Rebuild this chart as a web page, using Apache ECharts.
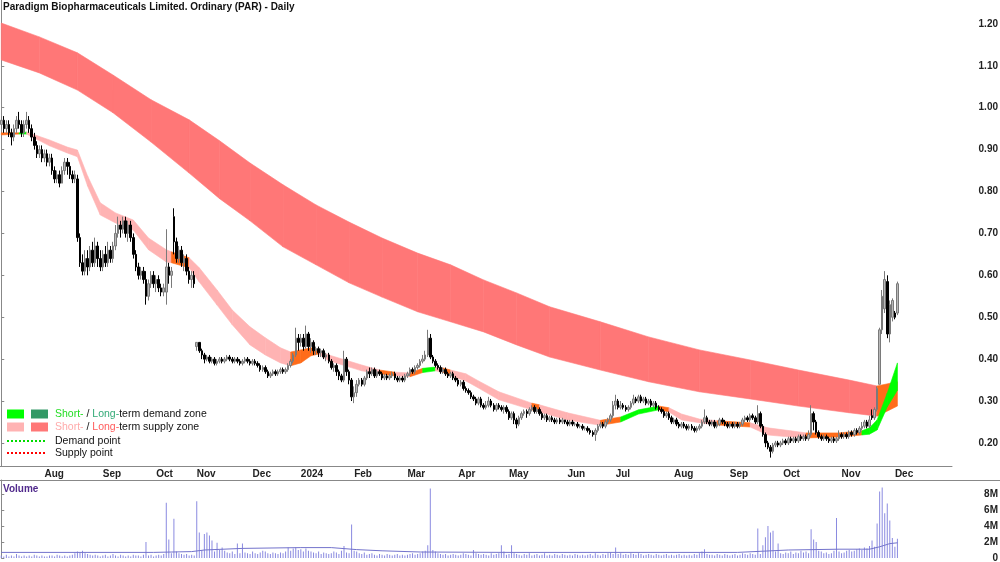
<!DOCTYPE html>
<html>
<head>
<meta charset="utf-8">
<script src="https://cdn.jsdelivr.net/npm/echarts@6/dist/echarts.min.js"></script>
<style>
  html, body { margin: 0; padding: 0; background: #fff; }
  #chart { width: 1000px; height: 562px; }
</style>
</head>
<body>
<div id="chart"></div>
<script>
const title = 'Paradigm Biopharmaceuticals Limited. Ordinary (PAR) - Daily'

// trading days on the axis (data + empty space on the right)
const dayCount = 375
const monthNames = ['Aug', 'Sep', 'Oct', 'Nov', 'Dec', '2024', 'Feb', 'Mar', 'Apr', 'May', 'Jun', 'Jul', 'Aug', 'Sep', 'Oct', 'Nov', 'Dec']
const monthStarts = [17, 40, 61, 77, 99, 118, 139, 160, 180, 200, 223, 242, 265, 287, 308, 331, 352]
const priceTicks = [0.2, 0.3, 0.4, 0.5, 0.6, 0.7, 0.8, 0.9, 1.0, 1.1, 1.2]
const volumeTicks = [0, 2e6, 4e6, 6e6, 8e6]

// daily bars, cents: [open, close, low, high]
const bars = [
  [96,97,95,98],[97,95,94,98],[95,96,94,97],[96,94,93,97],[94,93,91,95],[93,95,92,96],[95,97,94,98],[97,96,95,99],[96,94,93,97],[94,96,93,97],
  [96,97,95,99],[97,95,94,98],[95,93,92,96],[93,91,90,94],[91,89,88,92],[89,90,88,91],[90,88,87,91],[88,89,87,90],[89,87,86,90],[87,88,86,89],
  [88,85,84,89],[85,83,82,86],[83,84,82,85],[84,82,81,85],[82,85,82,86],[85,87,84,88],[87,86,84,88],[86,84,83,87],[84,83,82,85],[83,84,82,85],
  [83,69,68,84],[69,63,62,70],[63,61,60,65],[61,64,60,66],[64,62,60,66],[62,66,61,67],[66,63,62,68],[63,67,62,69],[67,64,62,68],[64,62,61,66],
  [62,65,61,66],[65,63,62,67],[63,66,62,68],[66,64,63,67],[64,67,63,68],[67,70,66,72],[70,72,69,74],[72,71,69,73],[71,73,70,74],[73,70,69,74],
  [70,72,68,73],[72,69,68,73],[69,65,64,70],[65,62,61,66],[62,60,59,63],[60,61,59,62],[61,59,58,62],[59,55,53,61],[55,58,54,59],[58,60,57,61],
  [60,58,57,61],[58,59,56,60],[59,57,56,60],[57,56,55,58],[56,57,55,58],[56,62,53,71],[62,60,58,63],[60,61,57,62],[74,68,65,76],[68,64,63,69],
  [64,66,63,67],[66,63,62,67],[63,64,61,65],[64,61,60,65],[61,59,58,62],[59,60,57,61],[60,58,57,61],[43,44,42,44],[44,42,41.5,44],[42,41,40,42.5],
  [41,40,39,41.5],[40,40.5,39.5,41],[40.5,39.5,39,41],[39.5,40,39,40.5],[40,39,38.5,40.5],[39,39.5,38.5,40],[39.5,40,39,40.5],[40,39.5,39,40.5],[39.5,40,39,40.5],[40,40.5,39.5,41],
  [40.5,40,39.5,41],[40,39.5,39,40.5],[39.5,40,39,40.5],[40,39.5,39,40.5],[39.5,39,38.5,40],[39,39.5,38.5,40],[39.5,40,39,40.5],[40,39.5,39,40.5],[39.5,39,38.5,40],[39,39.5,38.5,40],
  [39.5,39,38.5,40],[39,38.5,38,39.5],[38.5,37.5,37,39],[37.5,38,37,38.5],[38,37,36.5,38.5],[37,36,35.5,37.5],[36,36.5,35.5,37],[36.5,37,36,37.5],[37,36.5,36,37.5],[36.5,37,36,37.5],
  [37,37.5,36.5,38],[37.5,37,36.5,38],[37,37.5,36.5,38],[37.5,38.5,37,39],[38.5,39.5,38,40],[39.5,41,39,41.5],[41,45,40.5,47.5],[45,44,42,46],[44,45,43,46],[45,43,42,46],
  [43,46,42.5,48],[46,43,42,46.5],[43,44,41.5,45],[44,42,41,44.5],[42,42.5,41,43],[42.5,41.5,40.5,43],[41.5,42,40.5,42.5],[42,40.5,40,42.5],[40.5,41,39.5,41.5],[41,39.5,39,41.5],
  [39.5,38,37.5,40],[38,38.5,37,39],[38.5,37,36,39],[37,36,35,37.5],[36,35,34.5,36.5],[35,40,34.5,42],[40,37,36,40.5],[37,35,34,37.5],[35,31,30,35.5],[31,32,29.5,33.5],
  [32,34,31,35],[34,35,33.5,35.5],[35,34,33.5,35.5],[34,35.5,33.5,36],[35.5,37,35,37.5],[37,36.5,35.5,38],[36.5,37.5,36,38],[37.5,36,35.5,38],[36,37,35.5,37.5],[37,36.5,36,37.5],
  [36.5,35.5,35,37],[35.5,36,35,36.5],[36,35.5,35,36.5],[35.5,36,35,36.5],[36,36.5,35.5,37],[36.5,35.5,35,37],[35.5,35,34.5,36],[35,35.5,34.5,36],[35.5,35,34.5,36],[35,36,34.5,36.5],
  [36,36.5,35.5,37],[36.5,37.5,36,38],[37.5,37,36.5,38],[37,38,36.5,38.5],[38,38.5,37.5,39],[38.5,39.5,38,40],[39.5,40,39,41],[40,41,39.5,42],[41,45,40.5,47],[45,40.5,40,46],
  [40.5,39.5,39,41],[39.5,38.5,38,40],[38.5,38,37.5,39],[38,37,36.5,38.5],[37,37.5,36.5,38],[37.5,36.5,36,38],[36.5,36,35.5,37],[36,36.5,35.5,37],[36.5,35.5,35,37],[35.5,35,34.5,36],
  [35,34,33.5,35.5],[34,34.5,33.5,35],[34.5,33,32.5,35],[33,32.5,32,33.5],[32.5,32,31.5,33],[32,31,30.5,32.5],[31,30.5,30,31.5],[30.5,29.5,29,31],[29.5,30.5,29,31],[30.5,29,28.5,31],
  [29,28.5,28,29.5],[28.5,29,28,30],[29,30,28.5,31],[30,29,28.5,30.5],[29,28,27.5,29.5],[28,29,27.5,29.5],[29,28.5,28,29.5],[28.5,28,27.5,29],[28,28.5,27,29],[28.5,27.5,27,29],
  [27.5,26,25.5,28],[26,27,25.5,27.5],[27,25.5,24.5,27.5],[25.5,24.5,23.5,26],[24.5,26,24,26.5],[26,27,25.5,27.5],[27,27.5,26.5,28],[27.5,27,26,28],[27,28,26.5,28.5],[28,28.5,27.5,29],
  [28.5,27.5,27,29],[27.5,28,27,28.5],[28,27,26.5,28.5],[27,26,25.5,27.5],[26,26.5,25.5,27],[26.5,25.5,25,27],[25.5,26,25,26.5],[26,25.5,25,26.5],[25.5,25,24.5,26],[25,25.5,24.5,26],
  [25.5,25,24.5,26],[25,25.5,24.5,26],[25.5,25,24.5,25.5],[25,24.5,24,25.5],[24.5,25,24,25.5],[25,24.5,24,25.5],[24.5,24.5,24,25],[24.5,24,23.5,25],[24,24,23.5,24.5],[24,23.5,23,24.5],
  [23.5,23.5,23,24],[23.5,23,22.5,24],[23,22.5,22,23.5],[22.5,22,21.5,23],[22,23,20.5,23.5],[23,24,22.5,24.5],[24,24.5,23.5,25],[24.5,24,23.5,25],[24,25,23.5,25.5],[25,25.5,24.5,26],
  [25.5,26.5,25,27],[26.5,29,26,30],[29,30,28,31.5],[30,28.5,28,30.5],[28.5,29,28,30],[29,28.5,28,29.5],[28.5,28,27.5,29],[28,28.5,27.5,29],[28.5,29.5,28,30],[29.5,30.5,29,31.5],
  [30.5,30,29.5,31],[30,31,29.5,31.5],[31,30,29.5,31.5],[30,30.5,29.5,31],[30.5,29.5,29,31],[29.5,30,29,30.5],[30,29,28.5,30.5],[29,29.5,28.5,30],[29.5,28.5,28,30],[28.5,28,27.5,29],
  [28,27.5,27,28.5],[27.5,26.5,26,28],[26.5,27,26,27.5],[27,26,25.5,27.5],[26,25,24.5,26.5],[25,25.5,24.5,26],[25.5,24.5,24,26],[24.5,24,23.5,25],[24,24.5,23.5,25],[24.5,24,23.5,25],
  [24,23.5,23,24.5],[23.5,24,23,24.5],[24,23.5,23,24.5],[23.5,23,22.5,24],[23,23.5,22.5,24],[23.5,24,23,24.5],[24,25,23.5,25.5],[25,26,24.5,28],[26,25,24.5,26.5],[25,24.5,24,25.5],
  [24.5,25,24,25.5],[25,24,23.5,25.5],[24,24.5,23.5,25],[24.5,25.5,24,26],[25.5,25,24.5,26],[25,24.5,24,25.5],[24.5,24,23.5,25],[24,24.5,23.5,25],[24.5,24,23.5,25],[24,24.5,23.5,25],
  [24.5,24,23.5,25],[24,24.5,23.5,25],[24.5,25.5,24,26],[25.5,26,25,26.5],[26,25.5,25,26.5],[25.5,26.5,25,27],[26.5,26,25.5,27],[26,25,24.5,26.5],[25,27,24.5,29],[27,24,23.5,27.5],
  [24,22,21.5,24.5],[22,20,19,22.5],[20,19,18.5,20.5],[19,18,16.5,19.5],[18,19.5,17.5,20],[19.5,20,19,20.5],[20,19.5,19,20.5],[19.5,20,19,20.5],[20,20.5,19.5,21],[20.5,20,19.5,21],
  [20,21,19.5,21.5],[21,20.5,20,21.5],[20.5,21,20,21.5],[21,20.5,20,21.5],[20.5,21.5,20,22],[21.5,21,20.5,22],[21,21.5,20.5,22],[21.5,21,20.5,22],[21,22,20.5,23],[22,27,21.5,29],
  [27,25,23,27.5],[25,22.5,22,25.5],[22.5,21.5,21,23],[21.5,21,20.5,22],[21,21.5,20.5,22],[21.5,21,20.5,22],[21,20.5,20,21.5],[20.5,21,20,21.5],[21,20.5,20,21.5],[20.5,21,20,21.5],
  [21,22,20.5,23],[22,21.5,21,22.5],[21.5,22,21,22.5],[22,21.5,21,22.5],[21.5,22.5,21,23],[22.5,22,21.5,23],[22,23,21.5,23.5],[23,22.5,22,23.5],[22.5,23.5,22,24],[23.5,24,23,25],
  [24,25,23.5,25.5],[25,24,23.5,25.5],[24,25.5,23.5,26.5],[26.5,26,25.5,28],[26,28,25.5,28.5],[28,33,27.5,33.5],[34,47,34,47.5],[47,55,46,56.5],[52,59,51,61],[58.5,46,45,60],
  [46,53,44,54],[50,54,49,54.5],[51,50,49.5,51.5],[51,58,50.5,58.5]
]

// daily volume, units of 100k shares
const volumes = [
  3,2,4,2,3,2,5,3,2,3, 2,3,2,4,3,2,3,2,2,3, 3,2,4,3,2,3,2,3,4,6, 8,7,9,6,5,4,3,4,3,2,
  3,4,2,3,5,3,2,4,3,2, 3,2,4,3,3,2,4,20,3,4, 2,3,4,3,5,69,23,6,49,8, 6,5,4,5,3,4,3,71,32,10,
  30,32,28,22,8,19,10,13,9,7, 6,8,5,18,6,18,7,6,5,8, 6,5,7,9,8,6,5,7,6,5, 7,6,8,13,9,12,13,10,11,8,
  12,9,8,7,6,8,5,7,6,5, 6,8,7,5,9,15,7,6,42,9, 8,6,5,7,4,5,6,4,3,5, 4,3,5,4,3,4,5,3,4,3,
  4,5,6,4,5,6,8,9,16,87, 10,8,6,5,4,5,3,4,5,4, 3,4,6,5,4,3,10,6,5,4, 5,4,3,6,4,5,6,16,8,4,
  5,16,6,5,4,3,5,4,6,3, 4,5,3,4,6,3,4,3,5,4, 3,5,4,3,4,3,5,4,3,4, 3,4,5,3,6,4,3,5,4,6,
  7,5,13,5,6,4,5,4,6,5, 4,6,5,3,4,5,4,3,5,4, 3,4,5,3,4,3,4,5,3,4, 3,4,3,5,4,6,8,11,5,4,
  4,3,5,4,3,5,4,3,4,5, 3,4,6,5,4,6,5,4,37,5, 16,26,40,32,34,8,18,6,5,7, 6,8,5,7,6,9,7,8,6,36,
  23,20,9,8,6,7,5,6,9,50, 8,6,7,9,10,8,9,11,12,10, 13,12,15,22,14,43,83,88,56,68, 47,25,14,24
]

// volume moving average, [day, millions]
const volumeAverage = [
  [0, 0.7], [60, 0.7], [75, 0.8], [80, 1.0], [95, 1.2], [118, 1.3], [130, 1.3], [140, 1.05], [150, 0.9],
  [165, 0.75], [200, 0.7], [290, 0.7], [300, 0.85], [310, 1.0], [330, 1.1], [342, 1.1], [346, 1.4], [350, 1.8], [353, 1.9]
]

// long-term zone, [day, top, bottom, colour of the stretch that starts here]
const longZone = [
  [0, 1.202, 1.114, 'red'], [15, 1.169, 1.083, 'red'], [30, 1.131, 1.042, 'red'], [44, 1.078, 0.988, 'red'],
  [59, 1.019, 0.918, 'red'], [74, 0.971, 0.844, 'red'], [86, 0.921, 0.783, 'red'], [98, 0.868, 0.730, 'red'],
  [111, 0.816, 0.668, 'red'], [124, 0.768, 0.625, 'red'], [137, 0.727, 0.582, 'red'], [150, 0.689, 0.548, 'red'],
  [164, 0.653, 0.513, 'red'], [177, 0.625, 0.489, 'red'], [190, 0.589, 0.465, 'red'], [203, 0.558, 0.434, 'red'],
  [216, 0.525, 0.405, 'red'], [236, 0.489, 0.374, 'red'], [255, 0.453, 0.346, 'red'], [275, 0.422, 0.322, 'red'],
  [295, 0.398, 0.305, 'red'], [314, 0.374, 0.288, 'red'], [334, 0.350, 0.272, 'red'], [345, 0.336, 0.264, 'orange'],
  [353, 0.346, 0.288, 'orange']
]

// short-term zone, [day, top, bottom, colour of the stretch that starts here]
const shortZone = [
  [0, 0.940, 0.935, 'orange'], [7, 0.940, 0.937, 'green'], [10, 0.942, 0.937, 'pink'], [19, 0.923, 0.909, 'pink'],
  [26, 0.906, 0.892, 'pink'], [30, 0.899, 0.883, 'pink'], [34, 0.837, 0.813, 'pink'], [39, 0.773, 0.744, 'pink'],
  [45, 0.749, 0.725, 'pink'], [52, 0.732, 0.708, 'pink'], [58, 0.689, 0.661, 'pink'], [65, 0.661, 0.632, 'pink'],
  [67, 0.656, 0.630, 'orange'], [74, 0.642, 0.618, 'pink'], [78, 0.618, 0.584, 'pink'], [85, 0.565, 0.529, 'pink'],
  [91, 0.517, 0.482, 'pink'], [98, 0.477, 0.434, 'pink'], [104, 0.451, 0.410, 'pink'], [110, 0.427, 0.391, 'pink'],
  [114, 0.417, 0.384, 'orange'], [118, 0.422, 0.391, 'orange'], [122, 0.427, 0.408, 'orange'], [125, 0.422, 0.412, 'pink'],
  [129, 0.410, 0.396, 'pink'], [142, 0.386, 0.372, 'pink'], [149, 0.374, 0.365, 'orange'], [155, 0.369, 0.360, 'pink'],
  [161, 0.367, 0.358, 'orange'], [166, 0.378, 0.368, 'green'], [171, 0.381, 0.372, 'pink'], [174, 0.379, 0.369, 'orange'],
  [177, 0.374, 0.360, 'pink'], [183, 0.365, 0.348, 'pink'], [188, 0.348, 0.331, 'pink'], [196, 0.322, 0.303, 'pink'],
  [209, 0.295, 0.279, 'orange'], [212, 0.291, 0.274, 'pink'], [223, 0.272, 0.255, 'pink'], [236, 0.254, 0.242, 'orange'],
  [244, 0.262, 0.250, 'green'], [251, 0.279, 0.269, 'green'], [259, 0.288, 0.279, 'orange'], [263, 0.284, 0.274, 'pink'],
  [268, 0.269, 0.255, 'pink'], [275, 0.257, 0.248, 'pink'], [282, 0.253, 0.243, 'orange'], [295, 0.248, 0.238, 'pink'],
  [302, 0.236, 0.219, 'pink'], [311, 0.229, 0.214, 'pink'], [317, 0.224, 0.212, 'orange'], [330, 0.224, 0.214, 'orange'],
  [339, 0.229, 0.219, 'green'], [342, 0.236, 0.221, 'green'], [345, 0.255, 0.231, 'green'], [349, 0.319, 0.286, 'green'],
  [353, 0.391, 0.326, 'green']
]

const palette = {
  red: '#ff7777',
  pink: '#ffb3b3',
  orange: '#ff6c1a',
  green: '#00ff00'
}
const axisColour = '#888888'
const labelFont = { fontFamily: 'Liberation Sans, Arial', fontSize: 10, fontWeight: 'bold', color: '#222' }

const chart = echarts.init(document.getElementById('chart'))
const days = Array.from({ length: dayCount }, (_, i) => 'd' + i)
const isMonthStart = (index) => monthStarts.indexOf(index) !== -1

// one quad per pair of neighbouring zone samples
function zoneSeries(zone) {
  const segments = []
  for (let i = 0; i < zone.length - 1; i++) {
    const a = zone[i]
    const b = zone[i + 1]
    segments.push({ value: [a[0], a[1], a[2], b[0], b[1], b[2]], colour: palette[a[3]] })
  }
  return {
    type: 'custom',
    xAxisIndex: 1,
    yAxisIndex: 0,
    silent: true,
    clip: true,
    encode: { x: [0, 3], y: [1, 2, 4, 5] },
    data: segments.map(s => s.value),
    renderItem(params, api) {
      const colour = segments[params.dataIndex].colour
      const points = [
        api.coord([api.value(0), api.value(1)]),
        api.coord([api.value(3), api.value(4)]),
        api.coord([api.value(3), api.value(5)]),
        api.coord([api.value(0), api.value(2)])
      ]
      return {
        type: 'polygon',
        shape: { points },
        style: { fill: colour, stroke: colour, lineWidth: 0.6 }
      }
    }
  }
}

const legendText = { font: '10.5px "Liberation Sans", Arial', fill: '#111', verticalAlign: 'middle' }

const option = {
  animation: false,
  backgroundColor: '#fff',
  grid: [
    { left: 0, top: 0, width: 952, height: 466, outerBoundsMode: 'none' },
    { left: 0, top: 480, width: 952, height: 78, outerBoundsMode: 'none' }
  ],
  xAxis: [
    {
      type: 'category', gridIndex: 0, data: days, boundaryGap: true,
      axisLine: { lineStyle: { color: axisColour } },
      axisTick: { interval: isMonthStart, length: 3, lineStyle: { color: axisColour } },
      axisLabel: {
        ...labelFont, interval: isMonthStart, align: 'left', margin: 3,
        formatter: (value, index) => monthNames[monthStarts.indexOf(index)] || ''
      },
      splitLine: { show: false }
    },
    { type: 'value', gridIndex: 0, min: -0.5, max: dayCount - 0.5, show: false },
    { type: 'category', gridIndex: 1, data: days, boundaryGap: true, show: false },
    { type: 'value', gridIndex: 1, min: -0.5, max: dayCount - 0.5, show: false }
  ],
  yAxis: [
    {
      type: 'value', gridIndex: 0, position: 'right', min: 0.145, max: 1.257,
      axisLine: { show: true, lineStyle: { color: axisColour } },
      axisTick: { show: true, length: 3, customValues: priceTicks, lineStyle: { color: axisColour } },
      axisLabel: { ...labelFont, customValues: priceTicks, align: 'right', margin: 46, formatter: v => v.toFixed(2) },
      splitLine: { show: false }
    },
    {
      type: 'value', gridIndex: 1, position: 'right', min: 0, max: 9.75e6,
      axisLine: { show: true, lineStyle: { color: axisColour } },
      axisTick: { show: true, length: 3, customValues: volumeTicks, lineStyle: { color: axisColour } },
      axisLabel: { ...labelFont, customValues: volumeTicks, align: 'right', margin: 46, formatter: v => (v === 0 ? '0' : v / 1e6 + 'M') },
      splitLine: { show: false }
    }
  ],
  series: [
    zoneSeries(longZone),
    zoneSeries(shortZone),
    {
      type: 'candlestick', xAxisIndex: 0, yAxisIndex: 0, barWidth: 2,
      encode: { x: 0, y: [1, 2, 3, 4] },
      itemStyle: { color: '#b8b8b8', color0: '#000', borderColor: '#7a7a7a', borderColor0: '#000', borderWidth: 1 },
      data: bars.map((b, i) => [i, b[0] / 100, b[1] / 100, b[2] / 100, b[3] / 100])
    },
    {
      type: 'bar', xAxisIndex: 2, yAxisIndex: 1, barWidth: 1,
      itemStyle: { color: '#8a8ae0' },
      data: volumes.map(v => v * 1e5)
    },
    {
      type: 'line', xAxisIndex: 3, yAxisIndex: 1, symbol: 'none',
      lineStyle: { color: '#7373cc', width: 1 },
      data: volumeAverage.map(p => [p[0], p[1] * 1e6])
    }
  ],
  graphic: [
    { type: 'text', z: 100, left: 3, top: 2, style: { text: title, font: 'bold 10px "Liberation Sans", Arial', fill: '#111' } },
    { type: 'line', z: 100, shape: { x1: 0, y1: 480.5, x2: 1000, y2: 480.5 }, style: { stroke: axisColour, lineWidth: 1 } },
    { type: 'text', z: 100, left: 3, top: 484, style: { text: 'Volume', font: 'bold 10px "Liberation Sans", Arial', fill: '#512a8c' } },
    // legend
    { type: 'rect', z: 100, shape: { x: 7, y: 409.5, width: 17, height: 9 }, style: { fill: palette.green } },
    { type: 'rect', z: 100, shape: { x: 31, y: 409.5, width: 17, height: 9 }, style: { fill: '#339966' } },
    { type: 'rect', z: 100, shape: { x: 7, y: 422.5, width: 17, height: 9 }, style: { fill: palette.pink } },
    { type: 'rect', z: 100, shape: { x: 31, y: 422.5, width: 17, height: 9 }, style: { fill: palette.red } },
    { type: 'line', z: 100, shape: { x1: 7, y1: 441, x2: 45, y2: 441 }, style: { stroke: '#00dd00', lineWidth: 2, lineDash: [2, 2] } },
    { type: 'line', z: 100, shape: { x1: 7, y1: 453, x2: 45, y2: 453 }, style: { stroke: '#ff0000', lineWidth: 2, lineDash: [2, 2] } },
    {
      type: 'text', z: 100, x: 55, y: 414,
      style: { ...legendText, text: '{a|Short-} / {b|Long-}term demand zone', rich: { a: { fill: '#22dd22' }, b: { fill: '#33aa77' } } }
    },
    {
      type: 'text', z: 100, x: 55, y: 427,
      style: { ...legendText, text: '{a|Short-} / {b|Long-}term supply zone', rich: { a: { fill: '#ffaaaa' }, b: { fill: '#ff5c5c' } } }
    },
    { type: 'text', z: 100, x: 55, y: 441, style: { ...legendText, text: 'Demand point' } },
    { type: 'text', z: 100, x: 55, y: 453, style: { ...legendText, text: 'Supply point' } }
  ]
}

chart.setOption(option)
</script>
</body>
</html>
